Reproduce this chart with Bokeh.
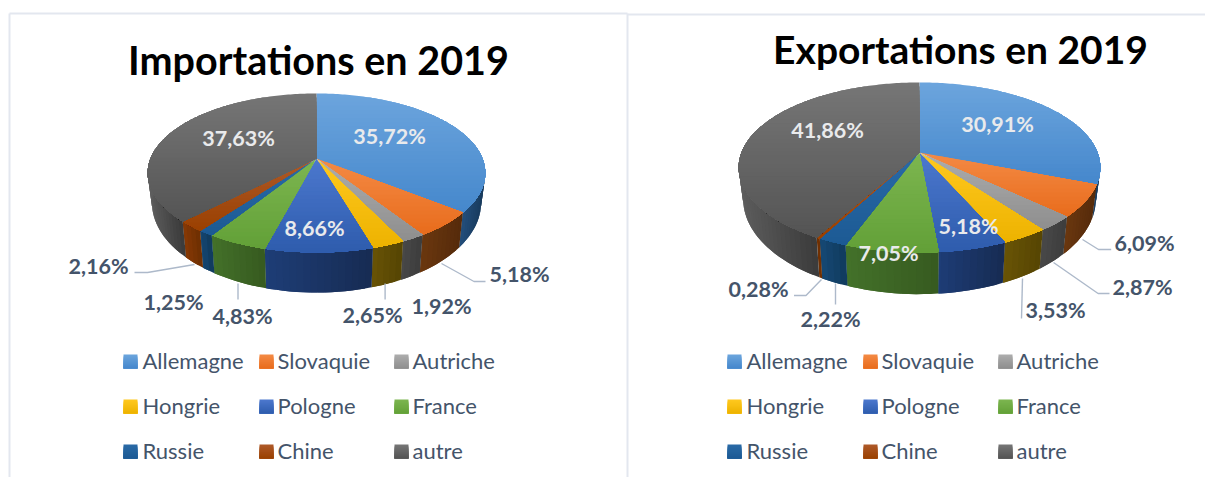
import numpy as np
from bokeh.plotting import figure
from bokeh.core.properties import value
from bokeh.embed import file_html
from bokeh.resources import INLINE

# ---- data ----
categories = ["Allemagne", "Slovaquie", "Autriche", "Hongrie", "Pologne", "France", "Russie", "Chine", "autre"]
imports_2019 = [35.72, 5.18, 1.92, 2.65, 8.66, 4.83, 1.25, 2.16, 37.63]
exports_2019 = [30.91, 6.09, 2.87, 3.53, 5.18, 7.05, 2.22, 0.28, 41.86]
title_imports = "Importations en 2019"
title_exports = "Exportations en 2019"

# ---- styles ----
top_light = ["#6CA5DD", "#F48A45", "#ADADAD", "#FFC91F", "#4C78CE", "#7DB650", "#2A6AA6", "#AE5A2A", "#767676"]
top_dark = ["#4587CC", "#E86C1C", "#8E8E8E", "#EDB200", "#2E5CAD", "#62A037", "#1C5A94", "#9A4000", "#545454"]
side_left = ["#24507E", "#6C380F", "#4A4A4A", "#6A5506", "#1E3E78", "#44722A", "#164A78", "#8A3A05", "#5E5E5E"]
side_right = ["#183A5C", "#562B0B", "#3E3E3E", "#574603", "#172C54", "#375B20", "#113C60", "#703002", "#3C3C3C"]
LABEL = "#44546A"
FONT = "Lato"


def hex2rgb(c):
    return np.array([int(c[i:i + 2], 16) for i in (1, 3, 5)], dtype=float)


def mix(a, b, t):
    r = hex2rgb(a) * (1 - t) + hex2rgb(b) * t
    return "#%02x%02x%02x" % tuple(int(round(v)) for v in r)


def clip_below(pts, y0):
    """Part of polygon pts with y >= y0."""
    out = []
    for i in range(len(pts)):
        a, b = pts[i - 1], pts[i]
        ka, kb = a[1] >= y0, b[1] >= y0
        if ka != kb:
            f = (y0 - a[1]) / (b[1] - a[1])
            out.append((a[0] + (b[0] - a[0]) * f, y0))
        if kb:
            out.append(b)
    return out


def draw_pie(p, values, cx, cy, R, H, k, s, dy, H2):
    theta = np.radians(np.concatenate([[0], np.cumsum(values)]) * 3.6)

    def top(t):
        u, v = np.sin(t), -np.cos(t)
        d = 1 - k * v
        return cx + R * u / d, cy + H * v / d

    def bottom(t):
        u, v = np.sin(t), -np.cos(t)
        d = 1 - k * v
        return cx + s * R * u / d, cy + dy + H2 * v / d

    xs, ys, cols = [], [], []
    # side wall: short overlapping quads, shaded left to right within every slice
    for i in range(len(values)):
        ts = np.arange(theta[i], theta[i + 1], np.radians(2))
        ts = np.append(ts, theta[i + 1])
        ts = ts[-np.cos(ts) > -0.3]
        if len(ts) < 2:
            continue
        xl = [top(t)[0] for t in ts]
        lo, hi = min(xl), max(xl)
        for j in range(len(ts) - 1):
            rest = ts[j:j + 3]
            f = (top(rest[0])[0] - lo) / max(hi - lo, 1e-6)
            xs.append([top(t)[0] for t in rest] + [bottom(t)[0] for t in rest[::-1]])
            ys.append([top(t)[1] for t in rest] + [bottom(t)[1] for t in rest[::-1]])
            cols.append(mix(side_left[i], side_right[i], f))
    # top face: bands painted downward, each covering the rest of the slice
    for i in range(len(values)):
        ts = np.linspace(theta[i], theta[i + 1], max(3, int((theta[i + 1] - theta[i]) * 60)))
        pts = [(cx, cy)] + [top(t) for t in ts]
        y_lo = min(q[1] for q in pts)
        y_hi = max(q[1] for q in pts)
        n = max(2, int((y_hi - y_lo) / 4))
        edges = np.linspace(y_lo, y_hi, n + 1)
        for j in range(n):
            band = clip_below(pts, edges[j])
            if len(band) >= 3:
                xs.append([q[0] for q in band])
                ys.append([q[1] for q in band])
                cols.append(mix(top_light[i], top_dark[i], (j + 0.5) / n))
    p.patches(xs, ys, fill_color=cols, line_color=None)


def draw_labels(p, texts, xy, color, size):
    p.text([q[0] for q in xy], [q[1] - 1.5 for q in xy], text=texts, text_font=value(FONT),
           text_font_style="bold", text_font_size=size, text_color=color,
           text_align="center", text_baseline="middle")


def pct(v):
    return ("%.2f%%" % v).replace(".", ",")


def draw_legend(p, x_swatch, x_text, rows):
    n = 0
    for y in rows:
        for xs0, xt in zip(x_swatch, x_text):
            bands = 7
            for j in range(bands):
                c = mix(top_light[n], top_dark[n], (j + 0.5) / bands)
                p.quad(left=xs0, right=xs0 + 14, top=y - 7 + j * 14 / bands,
                       bottom=y + 7, fill_color=c, line_color=None)
            p.text([xt - 1], [y - 1], text=[categories[n]], text_font=value(FONT), text_font_size="22px",
                   text_color=LABEL, text_align="left", text_baseline="middle")
            n += 1


p = figure(width=1205, height=477, x_range=(0, 1205), y_range=(477, 0),
           output_backend="svg", toolbar_location=None, min_border=0, outline_line_color=None)
p.axis.visible = False
p.grid.visible = False

# panel frames
frame = "#E3E7EF"
p.line([9, 9], [13, 477], line_color=frame, line_width=2)
p.line([9, 627], [13, 13], line_color=frame, line_width=2)
p.line([627, 627], [13, 477], line_color=frame, line_width=2)
p.line([627, 1205], [14, 14], line_color=frame, line_width=2)

# pies
draw_pie(p, imports_2019, 316, 158, 166, 76.9, 0.182, 0.975, 27.7, 87)
draw_pie(p, exports_2019, 919, 152, 178, 82.4, 0.176, 0.975, 30, 92)

# leader lines
leader = "#ADB9CA"
for lx, ly in [([441, 473.5, 485], [263, 281, 281]), ([134, 147, 194], [272, 272, 264]),
               ([237.5, 237.5], [283, 299]), ([384.6, 384.6], [283, 299]),
               ([1082, 1098, 1110.7], [239, 249, 249]), ([1053, 1097.6, 1109], [262, 293, 293]),
               ([1022, 1021], [278, 318]), ([821, 805.5, 793.5], [279, 295, 295]),
               ([835, 835], [283, 304])]:
    p.line(lx, ly, line_color=leader, line_width=1.4)

# titles
p.text([318], [58.5], text=[title_imports], text_font=value(FONT), text_font_style="bold",
       text_font_size="39.5px", text_color="#000000", text_align="center", text_baseline="middle")
p.text([960], [48.5], text=[title_exports], text_font=value(FONT), text_font_style="bold",
       text_font_size="39px", text_color="#000000", text_align="center", text_baseline="middle")

# data labels: order as in categories
imp_xy = [(389, 137), (519, 275), (441, 307), (372, 316), (314, 229), (242, 317), (173, 303), (98, 267), (238, 139)]
exp_xy = [(997, 125), (1144, 244), (1142, 288), (1055, 311), (968, 227), (888, 254), (830, 320), (758, 290), (827, 131)]
inside_imp = {0, 4, 8}
inside_exp = {0, 4, 5, 8}
for vals, xy, inside in [(imports_2019, imp_xy, inside_imp), (exports_2019, exp_xy, inside_exp)]:
    for i, v in enumerate(vals):
        draw_labels(p, [pct(v)], [xy[i]], "#E9EAEC" if i in inside else LABEL, "21.5px")

# legends
draw_legend(p, [123, 259, 394], [143, 278, 413], [361, 406, 451])
draw_legend(p, [727, 863, 998], [747, 882, 1017], [361, 406, 451])

open("out.html", "w").write(file_html(p, INLINE))
